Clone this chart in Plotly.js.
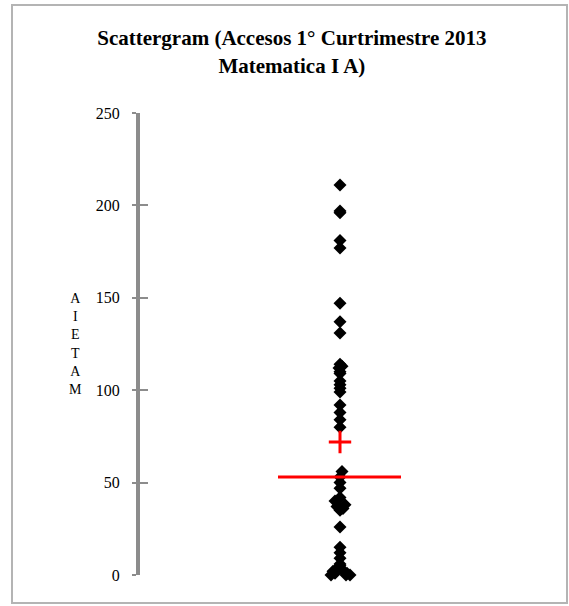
<!DOCTYPE html>
<html><head><meta charset="utf-8">
<script src="https://cdn.plot.ly/plotly-3.0.1.min.js"></script>
<style>html,body{margin:0;padding:0;background:#fff}</style>
</head><body>
<div id="chart" style="width:569px;height:606px"></div>
<script>
// Accesses (one column, with slight horizontal spread where markers pile up)
const accessY = [211, 197, 196, 181, 177, 147, 137, 131,
                 114, 113, 112, 110, 109,
                 105, 103, 101, 99,
                 92, 88, 84, 80,
                 56, 53, 50, 47,
                 42, 40, 38, 37, 36, 35,
                 26, 15, 12, 9,
                 6, 5, 4, 3, 2, 1, 1, 0, 0, 0];
const accessX = [1, 1, 1, 1, 1, 1, 1, 1,
                 1, 1.01, 0.995, 1, 1,
                 1, 1, 1, 1,
                 1, 1, 1, 1,
                 1.01, 1, 1, 1,
                 1, 0.975, 1.025, 0.985, 1.015, 1,
                 1, 1, 1, 1,
                 1, 1, 0.99, 1.01, 0.965, 1.035, 0.975, 1.03, 0.955, 1.05];
const meanValue = 72;
const medianValue = 53;
const yTickVals = [0, 50, 100, 150, 200, 250];
const yTickText = ['0', '50', '100', '150', '200', '250'];
const axisLetters = ['A', 'I', 'E', 'T', 'A', 'M'];

const serif = 'Liberation Serif, Times New Roman, serif';
const plotTop = 113, plotBottom = 575, plotLeft = 140, plotRight = 540;
const pxToPaperY = p => (plotBottom - p) / (plotBottom - plotTop);
const pxToPaperX = p => (p - plotLeft) / (plotRight - plotLeft);

const traces = [
  {type: 'scatter', mode: 'markers', x: accessX, y: accessY,
   marker: {symbol: 'diamond', size: 10, color: '#000'},
   cliponaxis: false, hoverinfo: 'y', showlegend: false},
  {type: 'scatter', mode: 'lines', x: [0.69, 1.305], y: [medianValue, medianValue],
   line: {color: '#ff0000', width: 3}, showlegend: false, hoverinfo: 'skip'},
  {type: 'scatter', mode: 'markers', x: [1], y: [meanValue],
   marker: {symbol: 'cross-thin', size: 16, color: '#ff0000', line: {color: '#ff0000', width: 3}},
   showlegend: false, cliponaxis: false},
  {type: 'scatter', mode: 'markers', x: [1], y: [0], yaxis: 'y2',
   marker: {opacity: 0}, showlegend: false, hoverinfo: 'skip'}
];

const annotations = [{
  text: axisLetters.join('<br>'), xref: 'paper', yref: 'paper',
  x: pxToPaperX(75), y: pxToPaperY(344),
  xanchor: 'center', yanchor: 'middle', align: 'center', showarrow: false,
  font: {family: serif, size: 14, color: '#000'}
}];

const layout = {
  width: 569, height: 606,
  paper_bgcolor: '#fff', plot_bgcolor: '#fff',
  margin: {l: plotLeft, r: 569 - plotRight, t: plotTop, b: 606 - plotBottom, pad: 0},
  title: {text: '<b>Scattergram (Accesos 1° Curtrimestre 2013<br>Matematica I A)</b>',
          font: {family: serif, size: 21, color: '#000'},
          x: 0.513, xanchor: 'center', y: 0.925, yanchor: 'top'},
  xaxis: {range: [0, 2], visible: false, fixedrange: true},
  yaxis: {range: [0, 250], tickvals: yTickVals, ticktext: yTickText,
          showgrid: false, zeroline: false, showline: true,
          linecolor: '#8c8c8c', linewidth: 4,
          ticks: 'outside', ticklen: 4, tickwidth: 2, tickcolor: '#8c8c8c',
          ticklabelstandoff: 9,
          tickfont: {family: serif, size: 16, color: '#000'}},
  yaxis2: {range: [0, 250], overlaying: 'y', side: 'left', tickvals: yTickVals,
           showticklabels: false, showgrid: false, zeroline: false, showline: false,
           ticks: 'inside', ticklen: 8, tickwidth: 2, tickcolor: '#8c8c8c'},
  annotations: annotations,
  shapes: [
    {type: 'rect', xref: 'paper', yref: 'paper',
     x0: pxToPaperX(12), x1: pxToPaperX(567), y0: pxToPaperY(603), y1: pxToPaperY(5),
     line: {color: '#b4b4b4', width: 2}, fillcolor: 'rgba(0,0,0,0)', layer: 'below'}
  ],
  showlegend: false
};

Plotly.newPlot('chart', traces, layout, {displayModeBar: false, staticPlot: true});
</script>
</body></html>
